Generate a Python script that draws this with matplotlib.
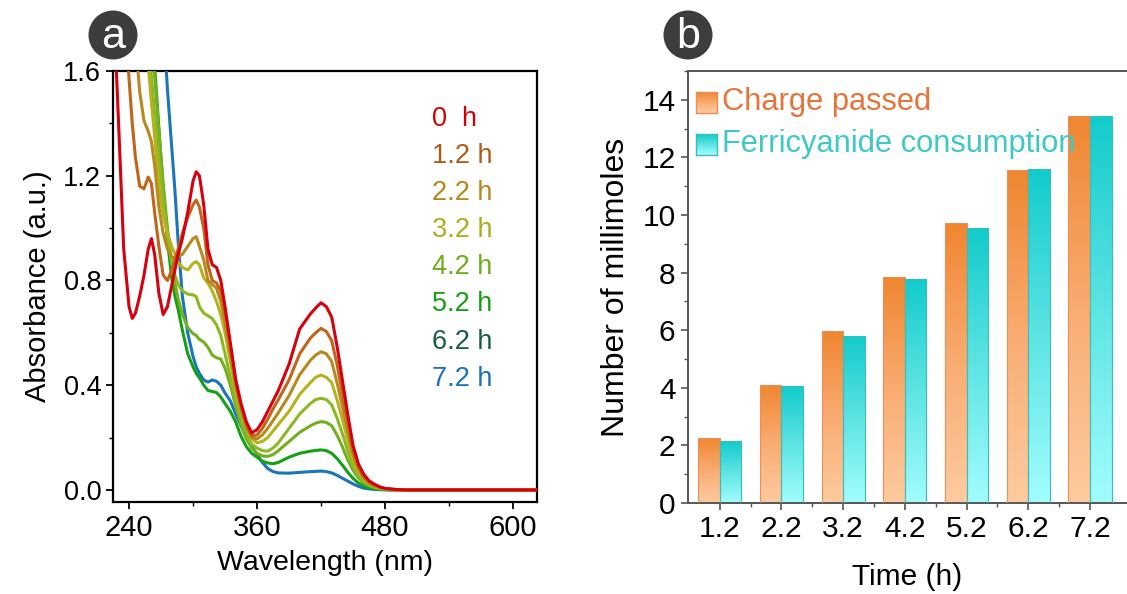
import matplotlib
matplotlib.use('Agg')
import matplotlib.pyplot as plt
import numpy as np
from matplotlib.colors import LinearSegmentedColormap
from matplotlib.patches import Circle
from matplotlib.ticker import MultipleLocator

plt.rcParams['font.family'] = ['Liberation Sans', 'DejaVu Sans']

# ---- UV-vis spectra (panel a) ----
wl = [225, 230, 235, 240, 243, 246, 250, 254, 258, 261,
      264, 268, 272, 276, 280, 283, 286, 290, 295, 300,
      303, 306, 310, 314, 318, 322, 326, 330, 335, 340,
      345, 350, 355, 360, 365, 370, 375, 380, 390, 400,
      410, 415, 420, 425, 430, 435, 440, 445, 450, 455,
      460, 465, 470, 475, 480, 490, 500, 550, 600, 625]

abs_0h = [1.9, 1.42, 0.92, 0.70, 0.655, 0.675, 0.74, 0.82, 0.92, 0.96,
          0.90, 0.75, 0.67, 0.70, 0.78, 0.84, 0.90, 0.96, 1.06, 1.18,
          1.215, 1.20, 1.09, 0.92, 0.86, 0.85, 0.80, 0.70, 0.56, 0.42,
          0.33, 0.26, 0.218, 0.23, 0.26, 0.30, 0.34, 0.38, 0.48, 0.615,
          0.672, 0.695, 0.715, 0.70, 0.66, 0.55, 0.42, 0.29, 0.17, 0.10,
          0.06, 0.035, 0.022, 0.012, 0.006, 0.002, 0.0, 0.0, 0.0, 0.0]
abs_1h = [2.5, 2.2, 1.9, 1.57, 1.40, 1.27, 1.16, 1.15, 1.195, 1.17,
          1.06, 0.93, 0.82, 0.80, 0.84, 0.88, 0.92, 0.98, 1.04, 1.09,
          1.107, 1.08, 1.00, 0.86, 0.80, 0.79, 0.76, 0.68, 0.55, 0.42,
          0.32, 0.25, 0.207, 0.21, 0.235, 0.27, 0.31, 0.345, 0.42, 0.52,
          0.58, 0.60, 0.617, 0.605, 0.57, 0.48, 0.37, 0.26, 0.155, 0.09,
          0.053, 0.03, 0.018, 0.01, 0.005, 0.001, 0.0, 0.0, 0.0, 0.0]
abs_2h = [2.9, 2.6, 2.3, 2.0, 1.85, 1.72, 1.52, 1.41, 1.37, 1.33,
          1.24, 1.08, 0.98, 0.92, 0.89, 0.885, 0.89, 0.90, 0.93, 0.96,
          0.967, 0.93, 0.88, 0.80, 0.785, 0.77, 0.72, 0.64, 0.52, 0.40,
          0.31, 0.24, 0.20, 0.195, 0.21, 0.235, 0.265, 0.295, 0.36, 0.44,
          0.495, 0.515, 0.528, 0.52, 0.49, 0.41, 0.32, 0.225, 0.135, 0.08,
          0.047, 0.027, 0.016, 0.009, 0.004, 0.001, 0.0, 0.0, 0.0, 0.0]
abs_3h = [3.2, 3.0, 2.8, 2.5, 2.35, 2.2, 2.0, 1.82, 1.62, 1.48,
          1.35, 1.16, 1.05, 0.98, 0.93, 0.90, 0.87, 0.85, 0.84, 0.865,
          0.872, 0.86, 0.81, 0.79, 0.76, 0.72, 0.67, 0.60, 0.49, 0.38,
          0.30, 0.235, 0.195, 0.18, 0.185, 0.20, 0.225, 0.25, 0.30, 0.365,
          0.41, 0.43, 0.439, 0.43, 0.41, 0.345, 0.27, 0.19, 0.115, 0.068,
          0.042, 0.024, 0.014, 0.008, 0.004, 0.001, 0.0, 0.0, 0.0, 0.0]
abs_4h = [3.5, 3.3, 3.1, 2.9, 2.7, 2.5, 2.3, 1.95, 1.72, 1.58,
          1.44, 1.26, 1.10, 0.97, 0.87, 0.82, 0.785, 0.76, 0.748, 0.745,
          0.738, 0.70, 0.675, 0.665, 0.655, 0.63, 0.59, 0.52, 0.43, 0.34,
          0.27, 0.21, 0.175, 0.16, 0.15, 0.148, 0.16, 0.18, 0.235, 0.29,
          0.33, 0.345, 0.35, 0.345, 0.325, 0.275, 0.215, 0.15, 0.092, 0.055,
          0.033, 0.019, 0.011, 0.006, 0.003, 0.001, 0.0, 0.0, 0.0, 0.0]
abs_5h = [3.6, 3.4, 3.2, 3.0, 2.8, 2.6, 2.4, 2.15, 1.9, 1.72,
          1.58, 1.37, 1.17, 1.00, 0.87, 0.79, 0.73, 0.67, 0.62, 0.597,
          0.59, 0.575, 0.565, 0.545, 0.515, 0.505, 0.50, 0.465, 0.40, 0.32,
          0.25, 0.195, 0.16, 0.14, 0.13, 0.128, 0.135, 0.15, 0.185, 0.22,
          0.245, 0.255, 0.261, 0.258, 0.245, 0.21, 0.165, 0.115, 0.075, 0.046,
          0.027, 0.016, 0.009, 0.005, 0.002, 0.0, 0.0, 0.0, 0.0, 0.0]
abs_6h = [3.7, 3.5, 3.3, 3.1, 2.9, 2.7, 2.5, 2.25, 2.0, 1.8,
          1.62, 1.38, 1.15, 0.95, 0.81, 0.74, 0.69, 0.61, 0.52, 0.47,
          0.445, 0.428, 0.40, 0.38, 0.376, 0.372, 0.355, 0.33, 0.30, 0.26,
          0.205, 0.165, 0.14, 0.125, 0.11, 0.103, 0.10, 0.105, 0.125, 0.14,
          0.148, 0.151, 0.153, 0.15, 0.14, 0.12, 0.095, 0.068, 0.044, 0.027,
          0.016, 0.009, 0.005, 0.003, 0.001, 0.0, 0.0, 0.0, 0.0, 0.0]
abs_7h = [4.5, 4.3, 4.1, 3.9, 3.7, 3.5, 3.3, 3.1, 2.9, 2.7,
          2.5, 2.2, 1.8, 1.53, 1.31, 1.145, 0.95, 0.74, 0.60, 0.51,
          0.47, 0.445, 0.42, 0.412, 0.42, 0.415, 0.40, 0.37, 0.34, 0.29,
          0.245, 0.20, 0.168, 0.135, 0.105, 0.082, 0.07, 0.065, 0.064, 0.067,
          0.07, 0.071, 0.072, 0.07, 0.065, 0.056, 0.045, 0.034, 0.023, 0.014,
          0.007, 0.004, 0.002, 0.001, 0.0, 0.0, 0.0, 0.0, 0.0, 0.0]

spectra = [abs_0h, abs_1h, abs_2h, abs_3h, abs_4h, abs_5h, abs_6h, abs_7h]
spec_labels = ['0  h', '1.2 h', '2.2 h', '3.2 h', '4.2 h', '5.2 h', '6.2 h', '7.2 h']
line_colors = ['#d7000f', '#c0651a', '#b8891c', '#b5b21e',
               '#8cb923', '#72b01f', '#15a015', '#1b75bb']
text_colors = ['#d40000', '#b35a12', '#b98618', '#adad1a',
               '#6aae1a', '#14a014', '#17603e', '#1a6fbf']

# ---- millimole bars (panel b) ----
times = ['1.2', '2.2', '3.2', '4.2', '5.2', '6.2', '7.2']
charge_passed = [2.25, 4.10, 5.97, 7.86, 9.71, 11.56, 13.44]
ferri_consumed = [2.15, 4.06, 5.80, 7.78, 9.56, 11.58, 13.44]

fig = plt.figure(figsize=(11.27, 5.94), dpi=100)

# panel a: spectra, later times drawn underneath
ax1 = fig.add_axes([0.1003, 0.1549, 0.3762, 0.7256])
for i in range(len(spectra) - 1, -1, -1):
    ax1.plot(wl, spectra[i], color=line_colors[i], lw=2.2, zorder=10 - i,
             solid_joinstyle='round')
ax1.set_xlim(225, 622.5)
ax1.set_ylim(-0.046, 1.6)
ax1.xaxis.set_major_locator(MultipleLocator(120))
ax1.xaxis.set_minor_locator(MultipleLocator(60))
ax1.yaxis.set_major_locator(MultipleLocator(0.4))
ax1.yaxis.set_minor_locator(MultipleLocator(0.2))
ax1.yaxis.set_major_formatter(plt.FormatStrFormatter('%.1f'))
ax1.tick_params(which='major', direction='out', length=5, width=1.3, labelsize=19.5)
ax1.tick_params(which='minor', direction='out', length=3, width=1.0)
ax1.tick_params(axis='x', labelsize=21)
for s in ax1.spines.values():
    s.set_linewidth(1.6)
ax1.set_xlabel('Wavelength (nm)', fontsize=20.5, labelpad=6)
ax1.set_ylabel('Absorbance (a.u.)', fontsize=21, labelpad=8)
for i, (lab, c) in enumerate(zip(spec_labels, text_colors)):
    ax1.text(524, 1.417 - i * 0.1417, lab, color=c, fontsize=19.5,
             va='center', ha='left')

# panel b: paired gradient bars
ax2 = fig.add_axes([0.6105, 0.1532, 0.3895, 0.7273])
x = np.arange(len(times))
w = 0.35
orange_map = LinearSegmentedColormap.from_list('orng', ['#fdcba0', '#f9ac72', '#f08630'])
cyan_map = LinearSegmentedColormap.from_list('cyn', ['#a2fdfd', '#5ee4e4', '#12cbcb'])
grad = np.linspace(1, 0, 256).reshape(-1, 1)


def gradient_bars(ax, xs, heights, cmap, edge):
    bars = ax.bar(xs, heights, w, color='none', edgecolor=edge, lw=0.8, zorder=3)
    for b in bars:
        im = ax.imshow(grad, extent=[b.get_x(), b.get_x() + b.get_width(), 0, b.get_height()],
                       aspect='auto', cmap=cmap, vmin=0, vmax=1, zorder=2)
        im.set_clip_path(b)
    return bars


gradient_bars(ax2, x - w / 2, charge_passed, orange_map, '#e8905a')
gradient_bars(ax2, x + w / 2, ferri_consumed, cyan_map, '#3bbcbc')

ax2.set_xlim(-0.514, 6.6)
ax2.set_ylim(0, 15)
ax2.set_xticks(x)
ax2.set_xticklabels(times)
ax2.set_xticks(x[:-1] + 0.5, minor=True)
ax2.yaxis.set_major_locator(MultipleLocator(2))
ax2.yaxis.set_minor_locator(MultipleLocator(1))
ax2.tick_params(which='major', direction='out', length=5, width=1.2,
                color='#555555', labelsize=21.5, pad=4)
ax2.tick_params(which='minor', direction='out', length=3, width=1.0, color='#555555')
ax2.spines['right'].set_visible(False)
for k in ['left', 'top', 'bottom']:
    ax2.spines[k].set_color('#555555')
    ax2.spines[k].set_linewidth(1.4)
ax2.set_xlabel('Time (h)', fontsize=21.5, labelpad=14)
ax2.set_ylabel('Number of millimoles', fontsize=23, labelpad=8)

# gradient legend keys
legend_items = [('Charge passed', orange_map, '#e8905a', '#e8743a', 0.903),
                ('Ferricyanide consumption', cyan_map, '#3bbcbc', '#3ec8c8', 0.806)]
for text, cmap, edge, tcol, yb in legend_items:
    key = ax2.inset_axes([0.018, yb, 0.048, 0.0486])
    key.imshow(grad, aspect='auto', cmap=cmap, vmin=0, vmax=1)
    key.set_xticks([])
    key.set_yticks([])
    for s in key.spines.values():
        s.set_color(edge)
        s.set_linewidth(1.0)
    ax2.text(0.0775, yb + 0.0243, text, transform=ax2.transAxes, color=tcol,
             fontsize=22.2, va='center', ha='left')

# panel badges
for cx, letter in [(113, 'a'), (688, 'b')]:
    fig.patches.append(Circle((cx / 100, (594 - 35) / 100), 0.245, facecolor='#3d3d3d',
                              edgecolor='none', transform=fig.dpi_scale_trans))
    fig.text(cx / 1127, 1 - 37 / 594, letter, color='white', fontsize=31,
             ha='center', va='center')

fig.savefig('out.png', dpi=100)
